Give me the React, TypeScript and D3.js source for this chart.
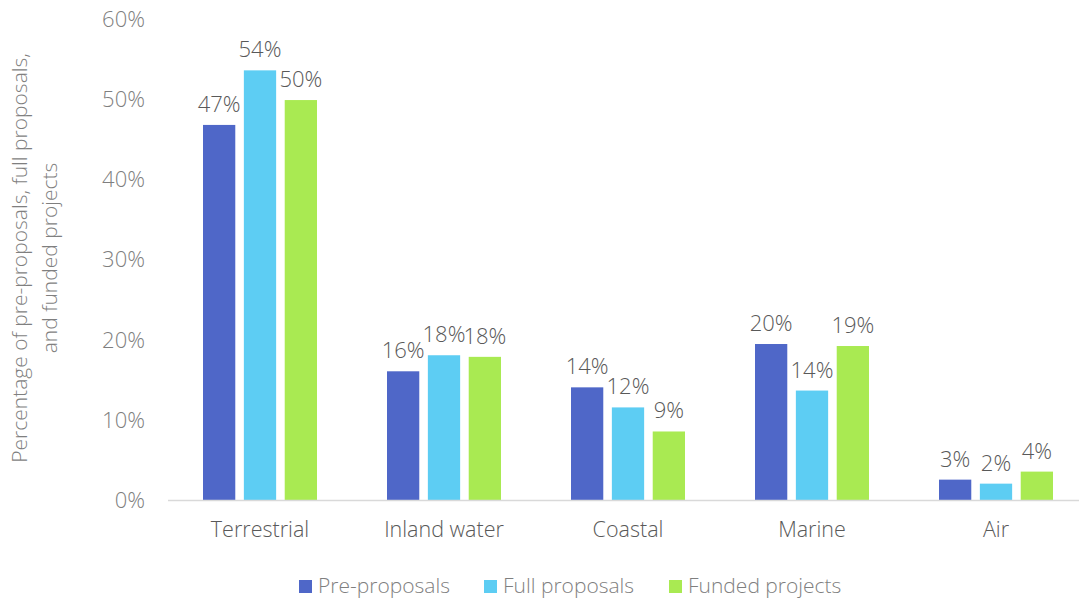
import React from "react";
import * as d3 from "d3";

const categories = ["Terrestrial", "Inland water", "Coastal", "Marine", "Air"];
const seriesNames = ["Pre-proposals", "Full proposals", "Funded projects"];
const preProposals = [46.8, 16.1, 14.1, 19.5, 2.6];
const fullProposals = [53.6, 18.1, 11.6, 13.7, 2.1];
const fundedProjects = [49.9, 17.9, 8.6, 19.25, 3.6];
const valueLabels = [
  ["47%", "16%", "14%", "20%", "3%"],
  ["54%", "18%", "12%", "14%", "2%"],
  ["50%", "18%", "9%", "19%", "4%"],
];
const yTicks = [0, 10, 20, 30, 40, 50, 60];
const colors = ["#4F67C8", "#5DCDF3", "#A9EA52"];

export default function App() {
  const W = 1079, H = 599;
  const left = 168, bandStep = 184;
  const x = d3.scaleBand<string>().domain(categories).range([left, left + bandStep * categories.length]).paddingInner(0).paddingOuter(0);
  const y = d3.scaleLinear().domain([0, 60]).range([500.5, 19]);
  const inner = d3.scaleBand<string>().domain(seriesNames).range([35, 35 + 114]).paddingInner(0.21);
  const series = [preProposals, fullProposals, fundedProjects];
  const font = "'Open Sans', Lato, sans-serif";
  const legendX = [299, 484, 669];

  return (
    <svg width={W} height={H} style={{ position: "absolute", left: 0, top: 0, fontFamily: font, fontWeight: 300 }}>
      <rect width={W} height={H} fill="#fff" />
      {yTicks.map((t) => (
        <text key={t} x={145} y={y(t)} dy="0.35em" textAnchor="end" fontSize={22} fill="#7f7f7f">
          {t}%
        </text>
      ))}
      <g transform="translate(27,258) rotate(-90)">
        <text x={0} y={0} textAnchor="middle" fontSize={21} fill="#7f7f7f">Percentage of pre-proposals, full proposals,</text>
        <text x={0} y={30} textAnchor="middle" fontSize={21} fill="#7f7f7f">and funded projects</text>
      </g>
      {series.map((vals, si) => (
        <g key={si}>
          {vals.map((v, ci) => {
            const bx = (x(categories[ci]) as number) + (inner(seriesNames[si]) as number);
            const bw = inner.bandwidth();
            return (
              <g key={ci}>
                <rect x={bx} y={y(v)} width={bw} height={y(0) - y(v)} fill={colors[si]} />
                <text x={bx + bw / 2} y={y(v) - 13} textAnchor="middle" fontSize={22} fill="#595959">
                  {valueLabels[si][ci]}
                </text>
              </g>
            );
          })}
        </g>
      ))}
      <line x1={168} x2={1079} y1={500.5} y2={500.5} stroke="#d9d9d9" strokeWidth={1.5} />
      {categories.map((c) => (
        <text key={c} x={(x(c) as number) + x.bandwidth() / 2} y={537} textAnchor="middle" fontSize={21.5} fill="#595959">
          {c}
        </text>
      ))}
      {seriesNames.map((s, i) => (
        <g key={s}>
          <rect x={legendX[i]} y={580} width={13} height={13} fill={colors[i]} />
          <text x={legendX[i] + 19} y={593} fontSize={21} fill="#7f7f7f">{s}</text>
        </g>
      ))}
    </svg>
  );
}
